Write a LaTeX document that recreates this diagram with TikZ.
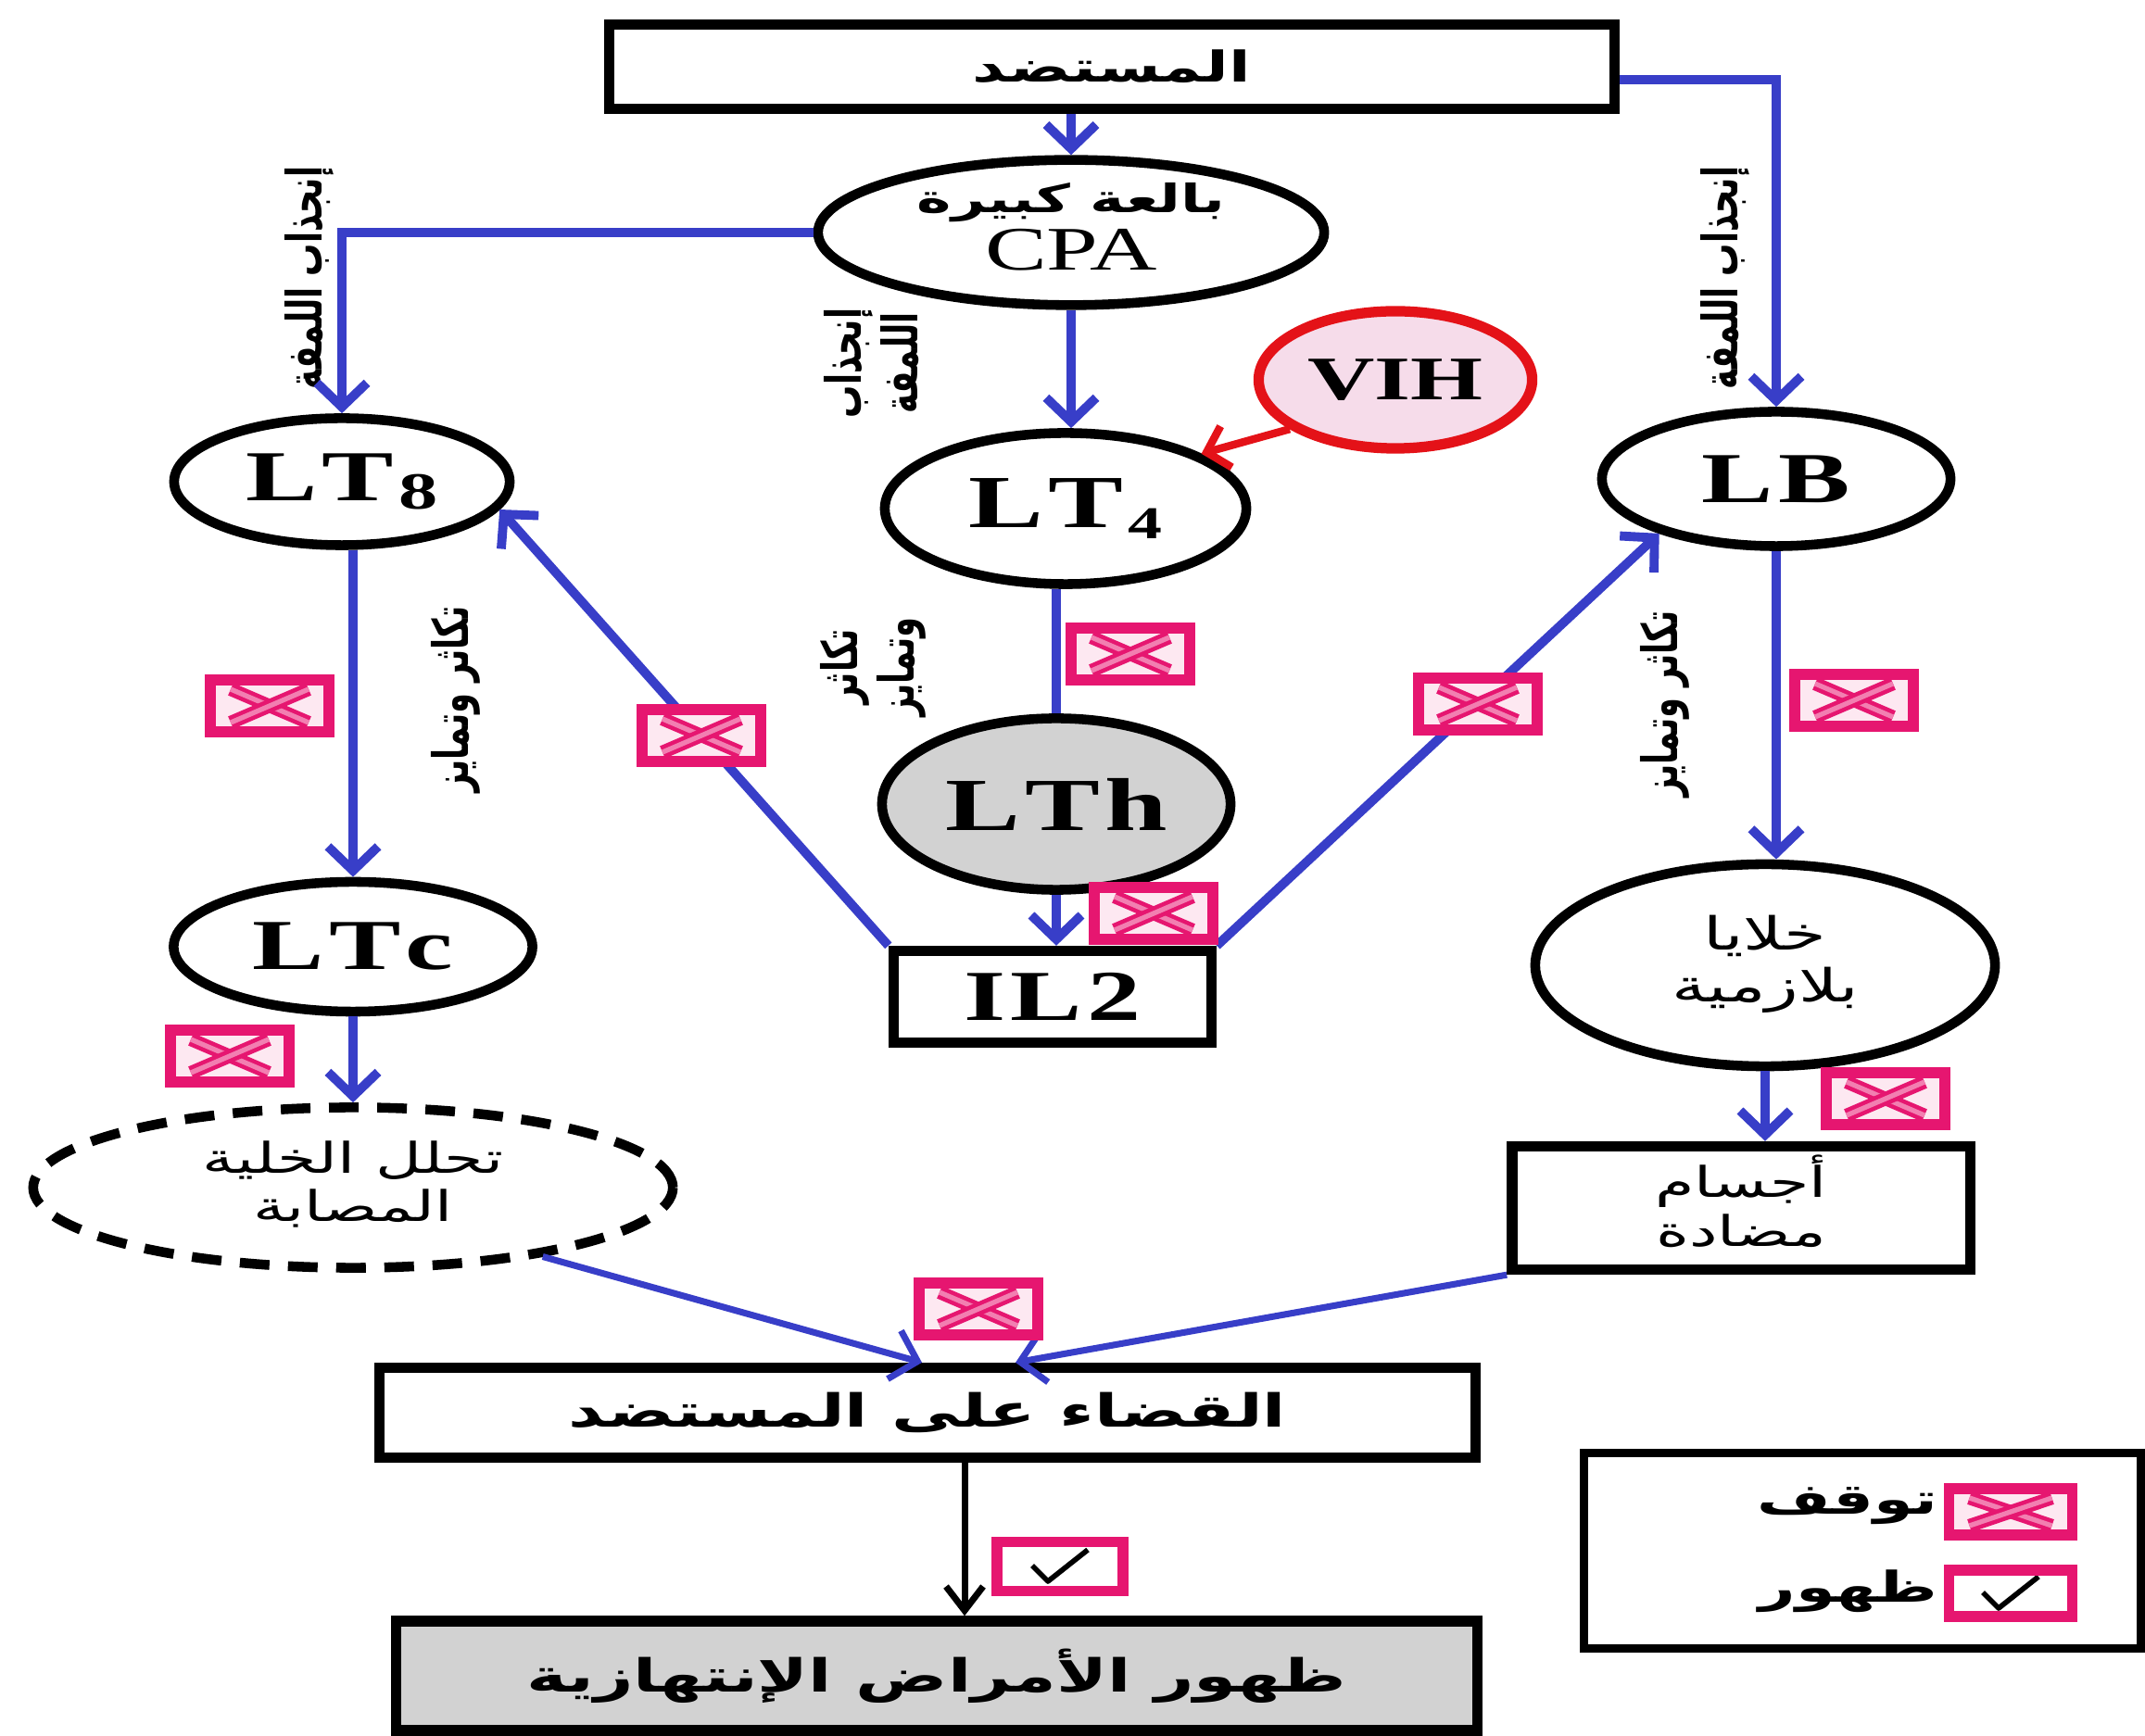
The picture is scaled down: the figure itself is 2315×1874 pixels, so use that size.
\documentclass[tikz,border=0pt]{standalone}
\usepackage{fontspec}
\usepackage{graphicx}
\usetikzlibrary{shapes.geometric,arrows.meta,calc}
\TeXXeTstate=1
\newfontfamily\arabicfont[Script=Arabic]{DejaVu Sans}
\newfontfamily\seriffont{Liberation Serif}
\newcommand\artext[1]{{\arabicfont\beginR #1\endR}}
\newcommand\hstretch[1]{\scalebox{1.5}[1]{#1}}
\newcommand\fsz[1]{\fontsize{#1}{#1}\selectfont}
\newcommand\artwo[2]{\begin{tabular}{@{}c@{}}\artext{#1}\\\artext{#2}\end{tabular}}
\renewcommand\arraystretch{1.15}

\definecolor{linkblue}{RGB}{56,62,200}
\definecolor{stoppink}{RGB}{230,22,112}
\definecolor{stopfill}{RGB}{253,232,241}
\definecolor{virusred}{RGB}{228,18,24}
\definecolor{virusfill}{RGB}{246,220,234}
\definecolor{cellgray}{RGB}{210,210,210}

\begin{document}
\begin{tikzpicture}[x=0.01cm, y=-0.01cm,
  box/.style={draw, rectangle, line width=3.2pt, inner sep=0pt},
  cell/.style={draw, ellipse, line width=3pt, inner sep=0pt},
  link/.style={draw=linkblue, line width=2.8pt, -{Straight Barb[length=2.6mm,width=5.4mm]}},
  thinlink/.style={draw=linkblue, line width=2pt, -{Straight Barb[length=2.6mm,width=5.4mm]}},
  plainlink/.style={draw=linkblue, line width=2.8pt},
  viruslink/.style={draw=virusred, line width=2.4pt, -{Straight Barb[length=2.2mm,width=4.6mm]}},
  blacklink/.style={draw=black, line width=2pt, -{Straight Barb[length=2.6mm,width=4mm]}},
  sidelabel/.style={inner sep=0pt},
  stopmark/.style={draw=stoppink, fill=stopfill, line width=3.2pt, rectangle,
    minimum width=1.28cm, minimum height=0.56cm, inner sep=0pt,
    path picture={
      \draw[stoppink, line width=1.3pt, double=stopfill!50!stoppink, double distance=1.5pt]
        ([xshift=0.22cm,yshift=-0.1cm]path picture bounding box.north west) --
        ([xshift=-0.22cm,yshift=0.1cm]path picture bounding box.south east);
      \draw[stoppink, line width=1.3pt, double=stopfill!50!stoppink, double distance=1.5pt]
        ([xshift=0.22cm,yshift=0.1cm]path picture bounding box.south west) --
        ([xshift=-0.22cm,yshift=-0.1cm]path picture bounding box.north east);
    }},
  okmark/.style={draw=stoppink, fill=white, line width=3.2pt, rectangle,
    minimum width=1.36cm, minimum height=0.53cm, inner sep=0pt,
    path picture={
      \draw[black, line width=1.6pt, line join=round]
        ([xshift=-0.3cm,yshift=0.01cm]path picture bounding box.center) --
        ([xshift=-0.13cm,yshift=-0.16cm]path picture bounding box.center) --
        ([xshift=0.3cm,yshift=0.18cm]path picture bounding box.center);
    }}
]
\useasboundingbox (0,0) rectangle (2315,1874);

% ---- cells and boxes ----
\node[box, minimum width=10.85cm, minimum height=0.91cm] (antigen) at (1200,72)
  {\hstretch{\fsz{13}\artext{\bfseries المستضد}}};
\node[cell, minimum width=5.46cm, minimum height=1.54cm] (cpa) at (1156,251)
  {\hstretch{\begin{tabular}{@{}c@{}}{\fsz{12}\artext{\bfseries بالعة كبيرة}}\\[1pt]{\fsz{19}\seriffont CPA}\end{tabular}}};
\node[cell, minimum width=3.62cm, minimum height=1.37cm] (lt8) at (369,520)
  {\hstretch{\fsz{22}\seriffont\bfseries L\kern1pt T\kern1pt\raisebox{-0.25ex}{\fsz{16}8}}};
\node[cell, minimum width=3.90cm, minimum height=1.63cm] (lt4) at (1150,549)
  {\hstretch{\fsz{23}\seriffont\bfseries L\kern1pt T\kern1pt\raisebox{-0.3ex}{\fsz{14}4}}};
\node[cell, minimum width=3.76cm, minimum height=1.45cm] (lb) at (1917,517)
  {\hstretch{\fsz{22}\seriffont\bfseries L\kern1pt B}};
\node[cell, draw=virusred, fill=virusfill, line width=3.2pt, minimum width=2.95cm, minimum height=1.48cm] (vih) at (1506,410)
  {\hstretch{\fsz{19}\seriffont\bfseries VIH}};
\node[cell, fill=cellgray, minimum width=3.76cm, minimum height=1.85cm] (lth) at (1140,868)
  {\hstretch{\fsz{23}\seriffont\bfseries L\kern1pt T\kern1pt h}};
\node[box, minimum width=3.43cm, minimum height=0.99cm] (il2) at (1136,1076)
  {\hstretch{\fsz{22}\seriffont\bfseries I\kern1pt L\kern1pt 2}};
\node[cell, minimum width=3.87cm, minimum height=1.40cm] (ltc) at (381,1022)
  {\hstretch{\fsz{22}\seriffont\bfseries L\kern1pt T\kern1pt c}};
\node[cell, dash pattern=on 0.32cm off 0.2cm, line width=3pt, minimum width=6.9cm, minimum height=1.73cm] (lysis) at (381,1282)
  {\hstretch{\fsz{13}\artwo{تحلل الخلية}{المصابة}}};
\node[cell, minimum width=4.96cm, minimum height=2.18cm] (plasma) at (1905,1042)
  {\hstretch{\fsz{14}\artwo{خلايا}{بلازمية}}};
\node[box, minimum width=4.94cm, minimum height=1.33cm] (antibody) at (1879,1304)
  {\hstretch{\fsz{13}\artwo{أجسام}{مضادة}}};
\node[box, minimum width=11.82cm, minimum height=0.97cm] (qada) at (1001,1525)
  {\hstretch{\fsz{14}\artext{\bfseries القضاء على المستضد}}};
\node[box, fill=cellgray, minimum width=11.67cm, minimum height=1.18cm] (disease) at (1011,1809)
  {\hstretch{\fsz{14}\artext{\bfseries ظهور الأمراض الإنتهازية}}};

% ---- rotated labels along the arrows ----
\node[sidelabel] (lblleft) at (334,300)
  {\hstretch{\rotatebox{90}{\fsz{10}\artext{\bfseries إنجذاب اللمفة}}}};
\node[sidelabel] (lblright) at (1862,300)
  {\hstretch{\rotatebox{90}{\fsz{10}\artext{\bfseries إنجذاب اللمفة}}}};
\node[sidelabel] (lblmid) at (948,392)
  {\hstretch{\rotatebox{90}{\fsz{10}\bfseries\artwo{إنجذاب}{اللمفة}}}};
\node[sidelabel] (lbldiv) at (944,720)
  {\hstretch{\rotatebox{90}{\fsz{10}\bfseries\artwo{تكاثر}{وتمايز}}}};
\node[sidelabel] (lbldivl) at (492,755)
  {\hstretch{\rotatebox{90}{\fsz{10}\artext{\bfseries تكاثر وتمايز}}}};
\node[sidelabel] (lbldivr) at (1797,760)
  {\hstretch{\rotatebox{90}{\fsz{10}\artext{\bfseries تكاثر وتمايز}}}};

% ---- connectors ----
\draw[link] (cpa.north |- antigen.south) -- (cpa.north);
\draw[link] ([yshift=-0.14cm]antigen.east) -| (lb.north);
\draw[link] (cpa.west) -| (lt8.north);
\draw[link] (cpa.south) -- (cpa.south |- lt4.north);
\draw[viruslink] (vih.205) -- (lt4.22);
\draw[plainlink] (lth.north |- lt4.south) -- (lth.north);
\draw[link] (lth.south) -- (lth.south |- il2.north);
\draw[link] (il2.north west) -- (lt8.-10);
\draw[link] (il2.north east) -- (lb.205);
\draw[link] (ltc.north |- lt8.south) -- (ltc.north);
\draw[link] (ltc.south) -- (lysis.north);
\draw[link] (lb.south) -- (lb.south |- plasma.north);
\draw[link] (plasma.south) -- (plasma.south |- antibody.north);
\draw[thinlink] (lysis.-20) -- ([xshift=-0.06cm]qada.north);
\draw[thinlink] (antibody.south west) -- ([xshift=0.95cm]qada.north);
\draw[blacklink] ([xshift=0.4cm]qada.south) -- ([xshift=0.4cm]qada.south |- disease.north);

% ---- stop / appearance marks ----
\node[stopmark] (stopa) at (291,762) {};
\node[stopmark] (stopb) at (757,794) {};
\node[stopmark] (stopc) at (1220,706) {};
\node[stopmark] (stopd) at (1245,986) {};
\node[stopmark] (stope) at (1595,760) {};
\node[stopmark] (stopf) at (2001,756) {};
\node[stopmark] (stopg) at (248,1140) {};
\node[stopmark] (stoph) at (2035,1186) {};
\node[stopmark] (stopi) at (1056,1413) {};
\node[okmark] (okmid) at (1144,1691) {};

% ---- legend ----
\node[box, line width=2.6pt, minimum width=6.01cm, minimum height=2.11cm] (legend) at (2010,1674) {};
\node[stopmark, minimum width=1.33cm, minimum height=0.5cm] (lgstop) at (2170,1632) {};
\node[okmark, minimum width=1.33cm, minimum height=0.5cm] (lgok) at (2170,1720) {};
\node[inner sep=0pt, anchor=east] (lgstoptxt) at (2092,1626) {\hstretch{\fsz{13}\artext{\bfseries توقف}}};
\node[inner sep=0pt, anchor=east] (lgoktxt) at (2092,1718) {\hstretch{\fsz{13}\artext{\bfseries ظهور}}};
\end{tikzpicture}
\end{document}
